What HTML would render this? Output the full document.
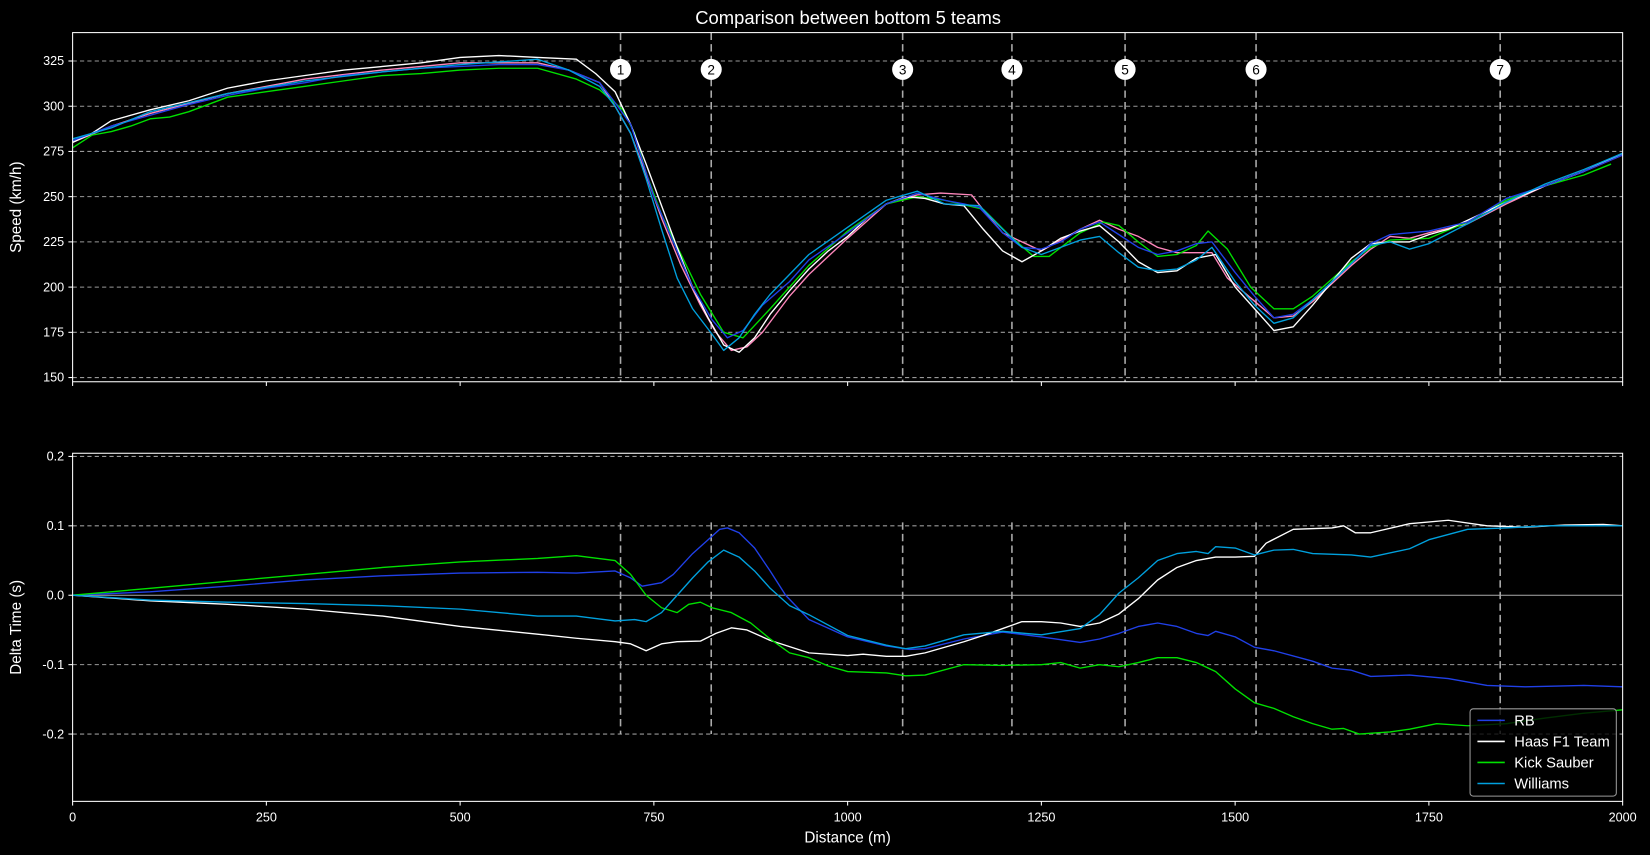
<!DOCTYPE html>
<html><head><meta charset="utf-8"><style>
html,body{margin:0;padding:0;background:#000;}
svg{display:block;font-family:"Liberation Sans","DejaVu Sans",sans-serif;}
</style></head><body>
<svg id="chart" width="1650" height="855" viewBox="0 0 1568 813" preserveAspectRatio="none" xmlns="http://www.w3.org/2000/svg">
<rect width="1568" height="813" fill="#000"/>
<text x="806" y="23" fill="#fff" font-size="17.5" text-anchor="middle">Comparison between bottom 5 teams</text>
<g id="topg"></g><g id="botg"></g>
</svg>
<script>
const speedDist = {
 haas:[0,25,50,100,150,200,250,300,350,400,450,500,550,600,650,675,700,720,740,760,780,800,820,840,860,880,900,925,950,975,1000,1025,1050,1075,1100,1125,1150,1175,1200,1225,1250,1275,1300,1325,1350,1375,1400,1425,1450,1475,1500,1525,1550,1575,1600,1625,1650,1675,1700,1725,1750,1775,1800,1850,1900,1950,2000],
 rb:[0,50,100,150,200,250,300,350,400,450,500,550,600,640,680,700,720,735,750,775,800,825,845,865,890,925,950,1000,1050,1090,1125,1150,1170,1200,1225,1250,1275,1300,1325,1350,1375,1400,1425,1450,1470,1500,1525,1550,1575,1600,1650,1675,1700,1750,1800,1850,1900,1950,2000],
 sauber:[0,25,50,75,100,125,150,200,250,300,350,400,450,500,550,600,650,680,710,725,740,760,785,810,840,865,900,950,1000,1050,1090,1125,1175,1210,1240,1260,1300,1330,1350,1375,1400,1425,1450,1465,1490,1520,1550,1575,1600,1650,1675,1700,1750,1800,1850,1900,1950,1985],
 williams:[0,50,100,150,200,300,400,500,600,640,680,700,720,740,760,780,800,825,840,860,880,900,950,1000,1050,1090,1125,1170,1200,1225,1250,1300,1325,1350,1375,1400,1425,1450,1470,1500,1525,1550,1575,1600,1650,1675,1700,1725,1750,1800,1850,1900,1950,2000],
 other:[0,50,100,200,300,400,500,600,640,680,700,720,740,760,785,810,830,850,870,890,925,950,975,1000,1050,1090,1120,1160,1180,1200,1250,1300,1325,1350,1375,1400,1425,1450,1470,1490,1520,1550,1575,1600,1650,1675,1700,1725,1750,1800,1850,1900,1950,2000]
};
const speedHaas=[280,285,292,298,303,310,314,317,320,322,324,327,328,327,326,318,308,290,268,245,222,200,183,168,164,172,185,198,210,220,228,238,246,250,249,246,245,232,220,214,220,227,231,234,225,214,208,209,216,218,200,188,176,178,190,203,216,224,225,225,229,232,237,247,256,264,274];
const speedRB=[281,289,295,301,306,310,313,317,319,321,322,323,323,320,313,302,290,270,250,225,200,182,172,176,190,203,215,230,246,252,248,246,244,230,222,221,225,232,236,229,222,218,220,224,225,208,195,183,185,193,213,224,229,231,236,249,256,264,273];
const speedSauber=[277,284,286,289,293,294,297,305,308,311,314,317,318,320,321,321,315,309,298,285,263,240,218,196,175,172,188,212,231,246,250,248,243,228,217,217,230,236,234,225,217,218,223,231,221,200,188,188,195,214,222,226,227,236,248,256,262,268];
const speedWilliams=[282,288,297,302,307,314,319,323,326,320,311,300,285,260,232,205,188,174,165,172,185,196,218,233,248,253,246,245,232,222,218,226,228,219,211,209,210,215,222,203,190,180,183,193,213,223,225,221,224,235,247,257,265,274];
const speedOther=[280,289,296,307,315,320,324,324,320,313,300,285,262,238,212,190,175,165,167,175,195,207,217,227,246,251,252,251,240,230,220,232,237,232,228,222,219,219,219,205,194,183,184,192,212,221,228,227,230,235,246,256,264,273];

const deltaDist = {
 haas:[0,100,200,300,400,500,600,650,700,720,740,760,780,810,830,850,870,900,950,1000,1020,1050,1075,1100,1150,1175,1200,1225,1250,1275,1300,1325,1350,1375,1400,1425,1450,1475,1500,1525,1540,1575,1625,1640,1655,1675,1725,1775,1825,1875,1925,1975,2000],
 rb:[0,100,200,300,400,500,600,650,700,720,735,760,775,800,820,835,845,860,880,900,920,950,1000,1050,1080,1100,1150,1200,1250,1300,1325,1350,1375,1400,1425,1450,1465,1475,1500,1525,1550,1600,1625,1650,1675,1725,1775,1825,1875,1950,2000],
 sauber:[0,100,200,300,400,500,600,650,700,720,740,760,780,795,810,825,850,875,900,925,950,975,1000,1050,1075,1100,1150,1200,1250,1275,1300,1325,1350,1375,1400,1425,1450,1475,1500,1525,1550,1575,1600,1625,1640,1660,1700,1725,1760,1800,1850,1900,1950,2000],
 williams:[0,100,200,300,400,500,550,600,650,700,725,740,760,780,800,820,840,860,880,900,925,950,1000,1050,1075,1100,1150,1200,1250,1300,1325,1350,1375,1400,1425,1450,1465,1475,1500,1525,1550,1575,1600,1650,1675,1725,1750,1800,1850,1900,1950,2000]
};
const deltaHaas=[0,-0.008,-0.013,-0.02,-0.03,-0.045,-0.056,-0.062,-0.067,-0.07,-0.08,-0.07,-0.067,-0.066,-0.055,-0.047,-0.05,-0.065,-0.083,-0.087,-0.085,-0.088,-0.088,-0.083,-0.067,-0.058,-0.048,-0.038,-0.038,-0.04,-0.045,-0.04,-0.027,-0.005,0.022,0.04,0.05,0.055,0.055,0.056,0.075,0.095,0.097,0.1,0.09,0.09,0.103,0.108,0.1,0.098,0.101,0.102,0.1];
const deltaRB=[0,0.005,0.013,0.022,0.028,0.032,0.033,0.032,0.035,0.025,0.013,0.018,0.03,0.06,0.08,0.095,0.097,0.09,0.068,0.035,0,-0.035,-0.06,-0.073,-0.078,-0.077,-0.063,-0.053,-0.06,-0.068,-0.063,-0.055,-0.045,-0.04,-0.045,-0.055,-0.058,-0.052,-0.06,-0.075,-0.08,-0.095,-0.105,-0.108,-0.117,-0.115,-0.12,-0.13,-0.132,-0.13,-0.132];
const deltaSauber=[0,0.01,0.02,0.03,0.04,0.048,0.053,0.057,0.05,0.03,0,-0.018,-0.025,-0.013,-0.01,-0.018,-0.025,-0.04,-0.063,-0.083,-0.09,-0.102,-0.11,-0.112,-0.116,-0.115,-0.1,-0.101,-0.1,-0.097,-0.105,-0.1,-0.103,-0.097,-0.09,-0.09,-0.097,-0.11,-0.135,-0.155,-0.163,-0.175,-0.185,-0.193,-0.192,-0.2,-0.197,-0.193,-0.185,-0.188,-0.185,-0.177,-0.17,-0.165];
const deltaWilliams=[0,-0.007,-0.01,-0.012,-0.015,-0.02,-0.025,-0.03,-0.03,-0.037,-0.035,-0.038,-0.025,0,0.025,0.048,0.065,0.055,0.035,0.01,-0.015,-0.028,-0.058,-0.072,-0.077,-0.073,-0.057,-0.052,-0.057,-0.048,-0.028,0.003,0.025,0.05,0.06,0.063,0.06,0.07,0.068,0.058,0.065,0.066,0.06,0.058,0.055,0.067,0.08,0.095,0.097,0.1,0.1,0.1];

const corners=[707,824,1071,1212,1358,1527,1842];
const cornerLabels=["1","2","3","4","5","6","7"];
const xTicks=[0,250,500,750,1000,1250,1500,1750,2000];
const speedTicks=[150,175,200,225,250,275,300,325];
const deltaTicks=[-0.2,-0.1,0.0,0.1,0.2];

const NS="http://www.w3.org/2000/svg";
const X0=69,X1=1542;
const xs=d=>X0+d*(X1-X0)/2000;
const ysT=v=>359-(v-150)*(301/175);
const ysB=v=>566-v*660;
function el(tag,attrs,parent){const e=document.createElementNS(NS,tag);for(const k in attrs)e.setAttribute(k,attrs[k]);parent.appendChild(e);return e;}
const gTop=document.getElementById('topg'), gBot=document.getElementById('botg');

function axes(g,yT,yB,ticks,ysf,fmt,ylabel,showX,grid){
  ticks.forEach(t=>{const y=ysf(t);
    const gl=el('line',{x1:X0,x2:X1,y1:y,y2:y,stroke:grid&&t===0?'#aaa':'#999','stroke-width':1,'stroke-dasharray':grid&&t===0?'none':'4,3'},g);
    
    
    el('line',{x1:X0-4,x2:X0,y1:y,y2:y,stroke:'#fff'},g);
    const tx=el('text',{x:X0-8,y:y+4,fill:'#fff','font-size':12,'text-anchor':'end'},g);tx.textContent=fmt(t);
    
    
  });
  xTicks.forEach(t=>{const x=xs(t);el('line',{x1:x,x2:x,y1:yB,y2:yB+4,stroke:'#fff'},g);
    if(showX){const tx=el('text',{x:x,y:yB+19,fill:'#fff','font-size':12,'text-anchor':'middle'},g);tx.textContent=t;
    
    }});
  const yl=el('text',{x:0,y:0,fill:'#fff','font-size':14.5,'text-anchor':'middle',transform:`translate(20,${(yT+yB)/2}) rotate(-90)`},g);yl.textContent=ylabel;
  
  
}
function line(g,dist,vals,ysf,color,name){
  const pts=dist.map((d,i)=>xs(d).toFixed(1)+','+ysf(vals[i]).toFixed(1)).join(' ');
  const p=el('polyline',{points:pts,fill:'none',stroke:color,'stroke-width':1.3,'stroke-linejoin':'round'},g);
  
  
}
function frame(g,yT,yB){const r=el('rect',{x:X0,y:yT,width:X1-X0,height:yB-yT,fill:'none',stroke:'#fff','stroke-width':1},g);
  
  }

// top
axes(gTop,31,363,speedTicks,ysT,v=>v,'Speed (km/h)',false,false);
corners.forEach((c,i)=>{const x=xs(c);
  const l=el('line',{x1:x,x2:x,y1:31,y2:363,stroke:'#aaa','stroke-width':1.5,'stroke-dasharray':'7,4'},gTop);
  
  
  const c1=el('circle',{cx:x,cy:66,r:10,fill:'#fff'},gTop);
  
  
  const t=el('text',{x:x,y:71,fill:'#000','font-size':13,'text-anchor':'middle'},gTop);t.textContent=cornerLabels[i];
  
  
});
line(gTop,speedDist.other,speedOther,ysT,'#ff87bc','speed-line-other');
line(gTop,speedDist.sauber,speedSauber,ysT,'#00e000','speed-line-kick-sauber');
line(gTop,speedDist.haas,speedHaas,ysT,'#ffffff','speed-line-haas');
line(gTop,speedDist.rb,speedRB,ysT,'#2040e8','speed-line-rb');
line(gTop,speedDist.williams,speedWilliams,ysT,'#00a0dd','speed-line-williams');
frame(gTop,31,363);

// bottom
axes(gBot,431,762,deltaTicks,ysB,v=>v.toFixed(1),'Delta Time (s)',true,true);
corners.forEach(c=>{const x=xs(c);
  const l=el('line',{x1:x,x2:x,y1:ysB(0.105),y2:ysB(-0.2),stroke:'#aaa','stroke-width':1.5,'stroke-dasharray':'7,4'},gBot);
  
  });
line(gBot,deltaDist.rb,deltaRB,ysB,'#2040e8','delta-line-rb');
line(gBot,deltaDist.haas,deltaHaas,ysB,'#ffffff','delta-line-haas');
line(gBot,deltaDist.sauber,deltaSauber,ysB,'#00e000','delta-line-kick-sauber');
line(gBot,deltaDist.williams,deltaWilliams,ysB,'#00a0dd','delta-line-williams');
frame(gBot,431,762);
const xl=el('text',{x:(X0+X1)/2,y:801,fill:'#fff','font-size':14.5,'text-anchor':'middle'},gBot);xl.textContent='Distance (m)';



// legend
const lg=el('g',{},gBot);


el('rect',{x:1397,y:674,width:139,height:83,rx:3,fill:'rgba(0,0,0,0.8)',stroke:'#999'},lg);
const legNames=['RB','Haas F1 Team','Kick Sauber','Williams'];
const legColors=['#2040e8','#ffffff','#00e000','#00a0dd'];
legNames.forEach((n,i)=>{const y=685+i*20;
  const it=el('g',{},lg);
  
  
  el('line',{x1:1404,x2:1430,y1:y,y2:y,stroke:legColors[i],'stroke-width':1.5},it);
  const t=el('text',{x:1439,y:y+5,fill:'#fff','font-size':14},it);t.textContent=n;});
</script>
</body></html>
